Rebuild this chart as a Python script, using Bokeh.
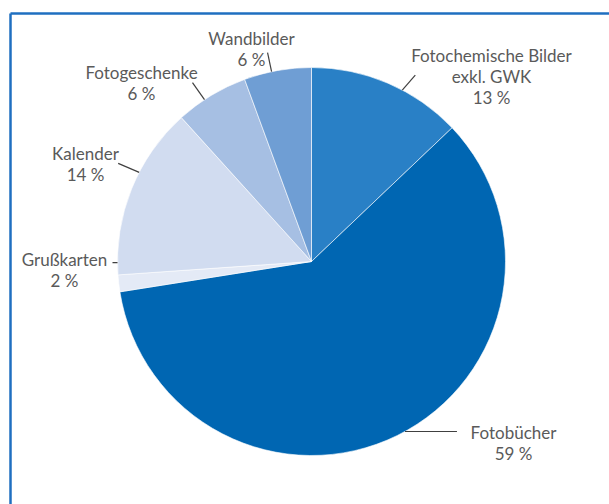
import math
from bokeh.plotting import figure
from bokeh.models import Range1d, ColumnDataSource
from bokeh.core.properties import value
from bokeh.embed import file_html
from bokeh.resources import INLINE

# ---- data ----
categories = ["Fotochemische Bilder exkl. GWK", "Fotobücher", "Grußkarten",
              "Kalender", "Fotogeschenke", "Wandbilder"]
shares = [12.9, 59.6, 1.4, 14.4, 6.1, 5.6]
label_lines = [["Fotochemische Bilder", "exkl. GWK", "13 %"],
               ["Fotobücher", "59 %"],
               ["Grußkarten", "2 %"],
               ["Kalender", "14 %"],
               ["Fotogeschenke", "6 %"],
               ["Wandbilder", "6 %"]]
colors = ["#2980C6", "#0066B2", "#E4EAF6", "#D1DCF0", "#A6BFE3", "#6F9ED4"]

# ---- layout (screen px inside the figure, y downward) ----
W, H = 609, 504
CX, CY, R = 311, 261, 194
label_pos = [(491, 55), (513, 432), (64, 259), (85, 153), (141, 72), (251, 38)]
line_gap = 21
leader_attach = [7.75, 42.0, 74.9, 82.6, 90.7, 96.7]   # percent position along pie
leader_offset = [(13, -15), (52, 0), (-5, 0), (-21, -9), (-12, -17), (-4, -19)]

def dy(y):
    return H - y

p = figure(width=W, height=H, x_range=Range1d(0, W), y_range=Range1d(0, H),
           output_backend="svg", toolbar_location=None, min_border=0)
p.axis.visible = False
p.grid.visible = False
p.outline_line_color = None
p.background_fill_color = "white"

# frame (top + left edges visible)
p.line(x=[10, W], y=[dy(13), dy(13)], line_color="#1F6FC0", line_width=2.5)
p.line(x=[10, 10], y=[dy(13), 0], line_color="#1F6FC0", line_width=2.5)

# wedges
total = sum(shares)
starts, ends = [], []
cum = 0.0
for s in shares:
    a0 = math.pi / 2 - 2 * math.pi * (cum + s) / total
    a1 = math.pi / 2 - 2 * math.pi * cum / total
    starts.append(a0)
    ends.append(a1)
    cum += s
src = ColumnDataSource(dict(start=starts, end=ends, color=colors, cat=categories))
p.wedge(x=CX, y=dy(CY), radius=R, start_angle="start", end_angle="end",
        direction="anticlock", fill_color="color", line_color="white",
        line_width=0.6, source=src)

# leader lines
for pct, (ox, oy) in zip(leader_attach, leader_offset):
    th = 2 * math.pi * pct / 100.0
    sx = CX + R * math.sin(th)
    sy = CY - R * math.cos(th)
    p.line(x=[sx, sx + ox], y=[dy(sy), dy(sy + oy)], line_color="#404040", line_width=1.2)

# labels
for (lx, ly), lines in zip(label_pos, label_lines):
    for i, t in enumerate(lines):
        p.text(x=[lx], y=[dy(ly + i * line_gap)], text=[t], text_align="center",
               text_baseline="middle", text_font=value("Lato"),
               text_font_size="17px", text_color="#5a5a5a")

open("out.html", "w").write(file_html(p, INLINE))
